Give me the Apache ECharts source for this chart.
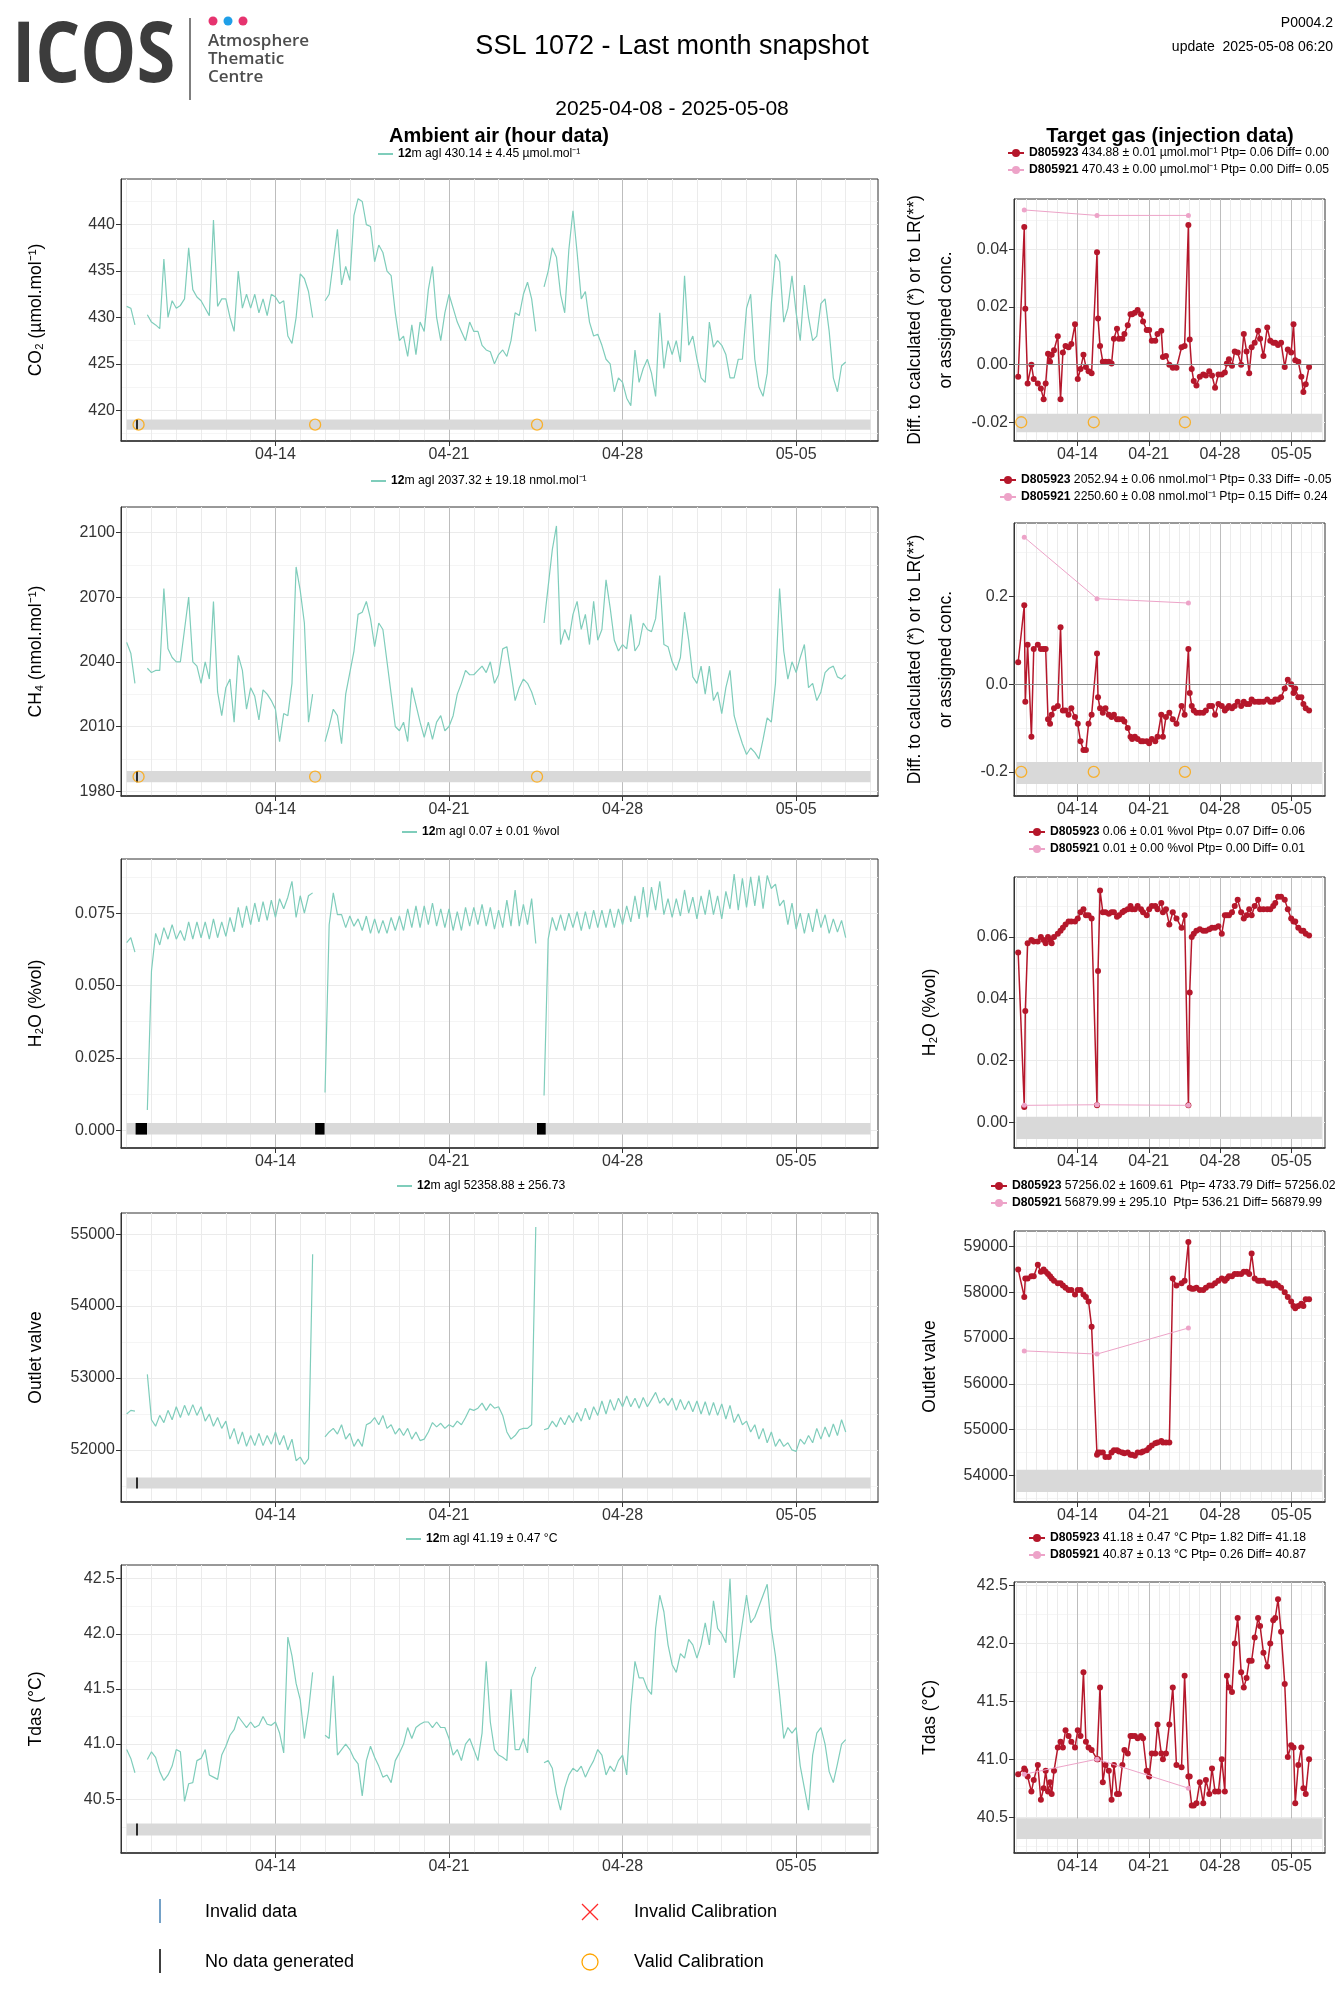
<!DOCTYPE html>
<html><head><meta charset="utf-8">
<script src="https://cdn.jsdelivr.net/npm/echarts@6/dist/echarts.min.js"></script>
<style>html,body{margin:0;padding:0;background:#fff}#c{width:1340px;height:2000px}</style>
</head><body><div id="c"></div>
<script>
// ---------------- DATA ----------------
const STEP_HOURS = 4;                       // hourly series sampled every 4 h from 2025-04-08 00:00 UTC
const seriesStart = '2025-04-08T00:00:00Z';
const xRange = ['2025-04-07T18:30:00Z', '2025-05-08T07:15:00Z'];
const xMajorTicks = ['2025-04-14', '2025-04-21', '2025-04-28', '2025-05-05'];
const statusSpan = ['2025-04-08T00:00:00Z', '2025-05-08T00:00:00Z'];
const calibrationDays = [0.48, 7.60, 16.55];            // valid calibrations (days after 04-08)
const noDataLineDays = [0.41];
const h2oNoDataRanges = [[0.36, 0.82], [7.60, 7.98], [16.55, 16.90]];

const co2Hourly = [
431.2,431,429.2,null,null,430.3, 429.5,429.2,428.8,436.3,430,431.8, 431,431.3,432,437.5,433,432.2,
431.8,431,430.2,440.5,431.2,432, 432,430,428.5,435,431,432.5, 431,432.5,430.5,432,430.2,432.5,
432.2,431.5,431.8,428,427.2,430, 434.7,434.2,432.8,430,null,null, 431.8,432.5,436,439.5,433.5,435.5,
434,441,442.8,442.5,440,439.8, 436,437.8,437,435,434.5,430.5, 427.5,428,425.8,429.2,426,429.5,
428.5,433,435.5,430,427.5,430.5, 432.5,431,429.5,428.5,427.5,429.5, 428.5,428.5,427,426.5,426.3,425,
426,426.5,425.8,427.5,430.5,430.2, 432.5,433.8,432,428.5,null,433.3, 435,437.5,436.5,432.5,430.5,437.3,
441.5,437,432,432.8,429.5,428, 428.2,427,425.5,425,422,423.5, 423,421.3,420.5,426.5,423,424.5,
425.5,424,421.5,430.5,424.5,427.5, 426,427.5,425.2,434.5,427,428, 425.5,423.5,423,429.5,426.8,427.5,
427,426,423.5,423.5,425.5,425.5, 431,432.5,425.5,422.5,421.5,424, 431.5,436.8,436,429.5,431,434.5,
430.5,427.5,433.5,430,427.5,428, 431.5,432,428.5,423.5,422,424.8, 425.2];

const ch4Hourly = [
2049,2044,2030,null,null,2037, 2035,2036,2036,2074,2046,2042, 2040,2040,2055,2070,2040,2038,
2030,2040,2032,2068,2026,2015, 2028,2032,2012,2043,2036,2018, 2028,2024,2013,2027,2025,2022,
2018,2003,2016,2015,2030,2084, 2073,2058,2012,2025,null,null, 2003,2010,2018,2015,2002,2025,
2035,2045,2062,2063,2068,2060, 2047,2058,2055,2040,2025,2010, 2008,2012,2003,2028,2020,2012,
2005,2012,2004,2012,2015,2008, 2010,2015,2025,2030,2036,2034, 2034,2036,2038,2035,2040,2030,
2034,2046,2047,2035,2022,2028, 2032,2030,2026,2020,null,2058, 2075,2092,2103,2048,2055,2050,
2062,2068,2055,2062,2048,2068, 2050,2055,2078,2065,2050,2045, 2048,2046,2062,2045,2048,2058,
2055,2054,2060,2080,2048,2047, 2040,2036,2042,2063,2050,2033, 2030,2038,2025,2038,2022,2026,
2016,2028,2036,2015,2008,2002, 1997,2000,1998,1995,2004,2014, 2012,2030,2074,2045,2032,2040,
2035,2042,2048,2028,2030,2022, 2026,2035,2037,2038,2033,2032, 2034];

const h2oHourly = [
0.0648,0.0665,0.0615,null,null,0.007, 0.055,0.068,0.064,0.070,0.066,0.071, 0.066,0.069,0.0655,0.072,0.066,0.072,
0.0665,0.072,0.066,0.073,0.0665,0.072, 0.067,0.0735,0.0685,0.077,0.070,0.0775, 0.071,0.0785,0.072,0.079,0.0725,0.0795,
0.0735,0.080,0.0765,0.0805,0.086,0.0735, 0.081,0.075,0.081,0.082,null,null, 0.013,0.071,0.082,0.0745,0.0745,0.070,
0.074,0.0705,0.073,0.069,0.074,0.068, 0.073,0.068,0.0725,0.068,0.0735,0.069, 0.074,0.069,0.0765,0.070,0.0775,0.070,
0.0775,0.071,0.0785,0.0705,0.0765,0.070, 0.0765,0.069,0.0755,0.069,0.077,0.0705, 0.077,0.071,0.078,0.0705,0.077,0.0695,
0.076,0.070,0.0795,0.0705,0.083,0.0705, 0.078,0.071,0.080,0.0645,null,0.012, 0.066,0.0735,0.069,0.0745,0.069,0.075,
0.070,0.0755,0.069,0.0755,0.0695,0.076, 0.070,0.076,0.070,0.0765,0.070,0.0765, 0.071,0.0775,0.072,0.081,0.073,0.084,
0.0735,0.084,0.076,0.086,0.0745,0.080, 0.0735,0.080,0.074,0.083,0.075,0.0805, 0.073,0.081,0.0745,0.083,0.0745,0.081,
0.073,0.0825,0.0765,0.0885,0.076,0.087, 0.077,0.0875,0.0775,0.088,0.0765,0.088, 0.0835,0.085,0.0775,0.0795,0.071,0.0785,
0.0695,0.075,0.068,0.075,0.0685,0.0765, 0.070,0.0745,0.068,0.073,0.0685,0.0725, 0.0665];

const outletHourly = [
52500,52550,52540,null,null,53050, 52420,52330,52480,52380,52550,52420, 52600,52450,52620,52480,52630,52480,
52600,52400,52500,52330,52450,52300, 52400,52150,52300,52080,52250,52050, 52200,52060,52230,52060,52200,52080,
52250,52070,52200,52000,52150,51850, 51900,51800,51880,54720,null,null, 52180,52250,52300,52220,52350,52150,
52230,52050,52150,52050,52350,52380, 52450,52350,52480,52300,52350,52220, 52300,52200,52300,52150,52250,52130,
52150,52250,52380,52320,52370,52300, 52350,52320,52400,52350,52450,52570, 52550,52580,52650,52550,52640,52580,
52600,52480,52250,52150,52200,52280, 52300,52300,52350,55100,null,52280, 52300,52400,52320,52450,52350,52480,
52380,52520,52400,52580,52420,52600, 52480,52680,52500,52700,52550,52720, 52600,52750,52600,52720,52580,52730,
52600,52700,52800,52650,52720,52620, 52720,52550,52700,52560,52680,52530, 52680,52500,52670,52480,52660,52480,
52640,52430,52620,52380,52500,52350, 52400,52250,52350,52150,52300,52100, 52250,52050,52150,52050,52100,52000,
51980,52150,52080,52200,52100,52300, 52150,52320,52180,52360,52200,52420, 52250];

const tdasHourly = [
40.95,40.87,40.74,null,null,40.86, 40.93,40.88,40.75,40.67,40.72,40.8, 40.95,40.93,40.48,40.64,40.65,40.85,
40.87,40.95,40.72,40.7,40.68,40.9, 40.98,41.08,41.13,41.25,41.2,41.15, 41.2,41.15,41.17,41.25,41.18,41.17,
41.2,41.1,40.92,41.97,41.8,41.55, 41.4,41.05,41.3,41.65,null,null, 41.08,41.05,41.62,40.9,40.95,41.0,
40.95,40.87,40.82,40.53,40.85,40.98, 40.88,40.8,40.7,40.72,40.65,40.85, 40.92,41.0,41.15,41.05,41.15,41.18,
41.2,41.2,41.15,41.2,41.15,41.15, 41.05,40.9,40.95,40.85,41.0,41.05, 40.95,40.85,41.1,41.75,41.2,40.95,
40.9,40.88,40.85,41.5,40.95,40.95, 41.05,40.92,41.6,41.7,null,40.83, 40.85,40.78,40.55,40.4,40.6,40.72,
40.78,40.75,40.8,40.7,40.78,40.85, 40.95,40.9,40.72,40.8,40.75,40.85, 40.9,40.72,41.35,41.75,41.6,41.6,
41.5,41.45,42.05,42.35,42.2,41.9, 41.72,41.65,41.82,41.78,41.95,41.9, 41.78,41.9,42.1,41.9,42.3,42.05,
42.0,41.92,42.5,41.6,41.85,42.1, 42.35,42.1,42.15,42.25,42.35,42.45, 42.05,41.8,41.45,41.05,41.15,41.1,
41.15,40.8,40.6,40.4,40.9,41.1, 41.15,41.0,40.75,40.65,40.82,41.0, 41.04];

// target-gas injections (days after 2025-04-08 00:00)
const injDay = [0.18,0.78,0.88,1.11,1.48,1.71,2.11,2.41,2.68,2.88,3.11,3.31,3.47,3.70,4.07,4.34,4.57,4.83,5.13,5.40,
5.76,6.03,6.30,6.59,6.83,7.09,7.39,7.92,8.02,8.22,8.49,8.75,9.08,9.35,9.58,9.88,10.08,10.41,10.61,10.94,
11.21,11.37,11.64,11.91,12.24,12.44,12.80,13.04,13.30,13.64,13.86,14.23,14.39,14.69,15.02,15.36,15.72,16.22,16.52,16.89,
17.02,17.22,17.42,17.68,18.01,18.35,18.61,18.94,19.21,19.51,19.84,20.17,20.47,20.67,20.87,21.17,21.44,21.73,22.07,22.33,
22.60,22.86,23.10,23.40,23.73,23.93,24.26,24.63,24.93,25.22,25.42,25.69,25.99,26.35,26.65,26.98,27.21,27.38,27.68,27.98,
28.18,28.41,28.74];
const refDay = [0.78, 7.92, 16.89];

const co2D805923 = [-0.0042,0.0478,0.0194,-0.0065,0.0,-0.005,-0.0065,-0.0083,-0.012,-0.0065,
0.0038,0.001,0.0034,0.005,0.0099,-0.012,0.0042,0.0065,0.006,0.0072,
0.014,-0.005,-0.0015,0.0034,-0.0008,-0.0023,-0.003,0.039,0.016,0.0065,
0.001,0.001,0.001,0.0004,0.009,0.0125,0.009,0.009,0.0106,0.0137,
0.0175,0.0175,0.018,0.019,0.0175,0.015,0.012,0.012,0.0083,0.0083,
0.0106,0.0118,0.0027,0.003,0.0,-0.0011,-0.0011,0.006,0.0065,0.0485,
0.0087,-0.0015,-0.0057,-0.0072,-0.0042,-0.0034,-0.0038,-0.0023,-0.0038,-0.008,
-0.0034,-0.0034,-0.0027,0.0004,0.0019,-0.0004,0.0046,0.0042,0.0,0.0106,
0.0046,-0.003,0.006,0.0076,0.0118,0.009,0.003,0.0129,0.0083,0.0076,
0.0076,0.0068,0.0076,-0.0008,0.0053,0.0042,0.014,0.0015,0.001,-0.0042,
-0.0095,-0.0068,-0.0008];
const co2D805921 = [0.0537, 0.0518, 0.0518];

const ch4D805923 = [0.05,0.18,-0.04,0.09,-0.12,0.08,0.09,0.08,0.08,0.08,
-0.08,-0.09,-0.07,-0.055,-0.05,0.13,-0.06,-0.06,-0.07,-0.055,
-0.075,-0.09,-0.13,-0.15,-0.15,-0.09,-0.07,0.07,-0.03,-0.055,
-0.065,-0.055,-0.07,-0.075,-0.07,-0.08,-0.08,-0.08,-0.085,-0.1,
-0.12,-0.125,-0.12,-0.125,-0.13,-0.13,-0.13,-0.135,-0.125,-0.13,
-0.12,-0.07,-0.12,-0.075,-0.065,-0.08,-0.09,-0.05,-0.07,0.08,
-0.02,-0.05,-0.06,-0.065,-0.065,-0.065,-0.06,-0.05,-0.05,-0.07,
-0.045,-0.05,-0.06,-0.055,-0.05,-0.055,-0.05,-0.04,-0.05,-0.04,
-0.045,-0.045,-0.035,-0.04,-0.04,-0.04,-0.04,-0.035,-0.04,-0.04,
-0.035,-0.035,-0.03,-0.01,0.01,0.0,-0.02,-0.01,-0.03,-0.03,
-0.045,-0.055,-0.06];
const ch4D805921 = [0.335, 0.195, 0.185];

const h2oD805923 = [0.055,0.005,0.036,0.058,0.059,0.0585,0.0585,0.060,0.059,0.058,
0.060,0.059,0.058,0.060,0.061,0.062,0.063,0.064,0.065,0.065,
0.065,0.066,0.068,0.069,0.067,0.067,0.066,0.0055,0.049,0.075,
0.068,0.068,0.0675,0.068,0.068,0.0665,0.067,0.068,0.0685,0.069,
0.070,0.069,0.069,0.070,0.069,0.068,0.067,0.069,0.070,0.070,
0.069,0.071,0.068,0.069,0.064,0.068,0.066,0.063,0.067,0.0055,
0.042,0.060,0.061,0.062,0.0625,0.062,0.062,0.0625,0.063,0.063,
0.0635,0.061,0.067,0.067,0.067,0.068,0.070,0.072,0.068,0.066,
0.067,0.069,0.067,0.070,0.072,0.069,0.069,0.069,0.069,0.070,
0.071,0.073,0.073,0.072,0.069,0.066,0.065,0.065,0.063,0.062,
0.062,0.061,0.0605];
const h2oD805921 = [0.0055, 0.0057, 0.0055];

const outletD805923 = [58500,57900,58300,58300,58350,58350,58600,58450,58500,58450,
58400,58350,58300,58250,58200,58200,58150,58100,58050,58050,
57950,58050,58050,57950,57900,57800,57250,54450,54500,54500,
54500,54400,54400,54500,54550,54550,54520,54500,54480,54500,
54450,54450,54430,54500,54500,54520,54550,54600,54650,54700,
54720,54750,54720,54720,54720,58300,58150,58200,58250,59100,
58100,58080,58080,58100,58050,58050,58100,58150,58150,58200,
58250,58300,58250,58300,58350,58350,58400,58400,58400,58450,
58450,58400,58850,58300,58250,58250,58250,58200,58200,58150,
58200,58150,58100,58000,57900,57800,57700,57650,57700,57750,
57700,57850,57850];
const outletD805921 = [56720, 56650, 57220];

const tdasD805923 = [40.87,40.92,40.9,40.85,40.72,40.82,40.95,40.65,40.75,40.9,
40.72,40.8,40.7,40.9,41.1,41.15,41.1,41.25,41.2,41.15,
41.1,41.25,41.2,41.75,41.15,41.1,41.08,41.0,41.0,41.62,
40.8,40.95,40.9,40.65,40.95,40.7,40.7,40.95,41.08,41.05,
41.2,41.2,41.2,41.18,41.2,41.18,40.9,40.85,41.05,41.05,
41.3,41.05,41.0,41.05,41.3,41.62,40.95,40.93,41.72,40.85,
40.85,40.6,40.6,40.62,40.8,40.62,40.82,40.7,40.92,40.72,
40.72,41.0,40.72,41.72,41.62,41.58,42.0,42.22,41.75,41.62,
41.7,41.85,41.85,42.05,42.22,42.15,41.92,41.8,42.0,42.2,
42.22,42.38,42.1,41.65,41.02,41.12,41.1,40.62,40.95,41.1,
40.75,40.7,41.0];
const tdasD805921 = [40.87, 41.0, 40.75];

// ---------------- CHART ----------------
const TEAL = '#7fcdbb', RED = '#b5172b', PINK = '#eda3c8', ORANGE = '#ffa500';
const FONT = "'Liberation Sans', Arial, Helvetica, sans-serif";
const HOUR = 3600e3, DAY = 864e5;
const T0 = Date.parse(seriesStart);
const xMin = Date.parse(xRange[0]), xMax = Date.parse(xRange[1]);
const xMajorTs = xMajorTicks.map(s => Date.parse(s + 'T00:00:00Z'));
const xMinorTs = [];
for (let d = 0; d <= 30; d++) { const t = T0 + d * DAY; if (!xMajorTs.includes(t)) xMinorTs.push(t); }
const statusTs = statusSpan.map(s => Date.parse(s));
const pad = n => (n < 10 ? '0' : '') + n;
const fmtDate = v => { const d = new Date(v); return pad(d.getUTCMonth() + 1) + '-' + pad(d.getUTCDate()); };
const hourlyPairs = arr => arr.map((v, i) => [T0 + i * STEP_HOURS * HOUR, v]);
const dayPairs = (days, vals) => days.map((d, i) => [T0 + d * DAY, vals[i]]);

const grid = [], xAxis = [], yAxis = [], series = [], legend = [];

function panel(c) {
  const gi = grid.length;
  grid.push({left: c.left, top: c.top, width: c.width, height: c.height, show: true, borderColor: '#333', borderWidth: 1,
    containLabel: false, outerBoundsMode: 'none'});
  xAxis.push({gridIndex: gi, type: 'value', position: 'bottom', min: xMin, max: xMax, axisLine: {show: false},
    axisTick: {show: false, customValues: xMinorTs}, axisLabel: {show: false},
    splitLine: {show: true, lineStyle: {color: '#ebebeb', width: 1}}});
  xAxis.push({gridIndex: gi, type: 'value', position: 'bottom', min: xMin, max: xMax,
    axisLine: {show: true, onZero: false, lineStyle: {color: '#333', width: 1.5}},
    axisTick: {show: true, customValues: xMajorTs, length: 5, lineStyle: {color: '#333'}},
    axisLabel: {show: true, customValues: xMajorTs, formatter: fmtDate, margin: 6, fontSize: 16, color: '#333', fontFamily: FONT},
    splitLine: {show: true, lineStyle: {color: '#bdbdbd', width: 1}}});
  yAxis.push({gridIndex: gi, type: 'value', position: 'left', min: c.min, max: c.max, axisLine: {show: false},
    axisTick: {show: false, customValues: c.minor}, axisLabel: {show: false},
    splitLine: {show: true, lineStyle: {color: '#f2f2f2', width: 0.8}}});
  yAxis.push({gridIndex: gi, type: 'value', position: 'left', min: c.min, max: c.max,
    name: c.name, nameLocation: 'middle', nameGap: c.nameGap,
    nameTextStyle: {fontSize: 17.5, color: '#000', fontFamily: FONT, lineHeight: c.nameLH || 20},
    axisLine: {show: true, onZero: false, lineStyle: {color: '#333', width: 1}},
    axisTick: {show: true, customValues: c.major, length: 5, lineStyle: {color: '#333'}},
    axisLabel: {show: true, customValues: c.major, formatter: v => v.toFixed(c.dec), margin: 6, fontSize: 16, color: '#333', fontFamily: FONT},
    splitLine: {show: true, lineStyle: {color: '#ebebeb', width: 1.2}}});
  return {xi: 2 * gi + 1, yi: 2 * gi + 1};
}

function bandArea(c) {
  const ma = [[{xAxis: statusTs[0], yAxis: c.band[0], itemStyle: {color: '#d9d9d9'}}, {xAxis: statusTs[1], yAxis: c.band[1]}]];
  (c.noDataRanges || []).forEach(r => ma.push([
    {xAxis: T0 + r[0] * DAY, yAxis: c.band[0], itemStyle: {color: '#000'}}, {xAxis: T0 + r[1] * DAY, yAxis: c.band[1]}]));
  return {silent: true, data: ma};
}

function calScatter(ax, y) {
  series.push({type: 'scatter', name: 'Valid Calibration', xAxisIndex: ax.xi, yAxisIndex: ax.yi, silent: true, z: 6,
    data: calibrationDays.map(d => [T0 + d * DAY, y]), symbol: 'circle', symbolSize: 11,
    itemStyle: {color: 'rgba(0,0,0,0)', borderColor: ORANGE, borderWidth: 1.3}});
}

const legendText = {fontSize: 12.2, color: '#000', fontFamily: FONT, lineHeight: 14,
  rich: {b: {fontWeight: 'bold', fontSize: 12.2, fontFamily: FONT, color: '#000'}}};

// ---- left panels (ambient air) ----
const L = {left: 121, width: 757};
const leftPanels = [
  {name: 'CO₂ (µmol.mol⁻¹)', top: 179, height: 262, min: 416.69, max: 444.92, major: [420, 425, 430, 435, 440],
   minor: [417.5, 422.5, 427.5, 432.5, 437.5, 442.5], dec: 0, band: [417.9, 419.0], calY: 418.45, data: co2Hourly,
   noDataLines: noDataLineDays, legendLeft: 378, legendTop: 147, label: '{b|12}m agl 430.14 ± 4.45 µmol.mol⁻¹'},
  {name: 'CH₄ (nmol.mol⁻¹)', top: 507, height: 289, min: 1977.75, max: 2111.8, major: [1980, 2010, 2040, 2070, 2100],
   minor: [1995, 2025, 2055, 2085], dec: 0, band: [1984.1, 1989.4], calY: 1986.7, data: ch4Hourly,
   noDataLines: noDataLineDays, legendLeft: 371, legendTop: 474, label: '{b|12}m agl 2037.32 ± 19.18 nmol.mol⁻¹'},
  {name: 'H₂O (%vol)', top: 859, height: 289, min: -0.00614, max: 0.0937, major: [0, 0.025, 0.05, 0.075],
   minor: [0.0125, 0.0375, 0.0625, 0.0875], dec: 3, band: [-0.0015, 0.0025], data: h2oHourly,
   noDataRanges: h2oNoDataRanges, legendLeft: 402, legendTop: 825, label: '{b|12}m agl 0.07 ± 0.01 %vol'},
  {name: 'Outlet valve', top: 1213, height: 289, min: 51276, max: 55294, major: [52000, 53000, 54000, 55000],
   minor: [51500, 52500, 53500, 54500], dec: 0, band: [51465, 51618], data: outletHourly,
   noDataLines: noDataLineDays, legendLeft: 397, legendTop: 1179, label: '{b|12}m agl 52358.88 ± 256.73'},
  {name: 'Tdas (°C)', top: 1565, height: 288, min: 40.012, max: 42.624, major: [40.5, 41, 41.5, 42, 42.5],
   minor: [40.25, 40.75, 41.25, 41.75, 42.25], dec: 1, band: [40.17, 40.28], data: tdasHourly,
   noDataLines: noDataLineDays, legendLeft: 406, legendTop: 1532, label: '{b|12}m agl 41.19 ± 0.47 °C'}
];
leftPanels.forEach(p => {
  const c = Object.assign({}, L, p, {nameGap: 75});
  const ax = panel(c);
  const ml = (p.noDataLines || []).map(d => [{xAxis: T0 + d * DAY, yAxis: p.band[0]}, {xAxis: T0 + d * DAY, yAxis: p.band[1]}]);
  series.push({type: 'line', name: '12m agl', xAxisIndex: ax.xi, yAxisIndex: ax.yi, data: hourlyPairs(p.data),
    symbol: 'none', connectNulls: false, lineStyle: {color: TEAL, width: 1.2}, itemStyle: {color: TEAL},
    markArea: bandArea(p),
    markLine: {silent: true, symbol: ['none', 'none'], label: {show: false}, lineStyle: {color: '#000', width: 1.6, type: 'solid'}, data: ml}});
  if (p.calY !== undefined) calScatter(ax, p.calY);
  legend.push({left: p.legendLeft, top: p.legendTop, padding: 0, itemWidth: 15, itemHeight: 2, icon: 'rect',
    data: ['12m agl'], formatter: () => p.label, textStyle: legendText});
});

// ---- right panels (target gas) ----
const R = {left: 1014, width: 311};
const diffName = 'Diff. to calculated (*) or to LR(**)\nor assigned conc.';
const rightPanels = [
  {name: diffName, nameGap: 52, nameLH: 31, top: 199, height: 242, min: -0.0265, max: 0.0575, major: [-0.02, 0, 0.02, 0.04],
   minor: [-0.01, 0.01, 0.03, 0.05], dec: 2, band: [-0.0235, -0.017], calY: -0.02, zero: true, red: co2D805923, pink: co2D805921,
   legendLeft: 1007, legendTop: 146,
   labels: ['{b|D805923} 434.88 ± 0.01 µmol.mol⁻¹ Ptp= 0.06 Diff= 0.00', '{b|D805921} 470.43 ± 0.00 µmol.mol⁻¹ Ptp= 0.00 Diff= 0.05']},
  {name: diffName, nameGap: 52, nameLH: 31, top: 523, height: 273, min: -0.255, max: 0.3675, major: [-0.2, 0, 0.2],
   minor: [-0.1, 0.1, 0.3], dec: 1, band: [-0.2275, -0.1775], calY: -0.2, zero: true, red: ch4D805923, pink: ch4D805921,
   legendLeft: 999, legendTop: 473,
   labels: ['{b|D805923} 2052.94 ± 0.06 nmol.mol⁻¹ Ptp= 0.33 Diff= -0.05', '{b|D805921} 2250.60 ± 0.08 nmol.mol⁻¹ Ptp= 0.15 Diff= 0.24']},
  {name: 'H₂O (%vol)', nameGap: 74, top: 877, height: 271, min: -0.0083, max: 0.0794, major: [0, 0.02, 0.04, 0.06],
   minor: [0.01, 0.03, 0.05, 0.07], dec: 2, band: [-0.0054, 0.0018], red: h2oD805923, pink: h2oD805921,
   legendLeft: 1028, legendTop: 825,
   labels: ['{b|D805923} 0.06 ± 0.01 %vol Ptp= 0.07 Diff= 0.06', '{b|D805921} 0.01 ± 0.00 %vol Ptp= 0.00 Diff= 0.01']},
  {name: 'Outlet valve', nameGap: 74, top: 1231, height: 271, min: 53417, max: 59340, major: [54000, 55000, 56000, 57000, 58000, 59000],
   minor: [53500, 54500, 55500, 56500, 57500, 58500], dec: 0, band: [53636, 54121], red: outletD805923, pink: outletD805921,
   legendLeft: 990, legendTop: 1179,
   labels: ['{b|D805923} 57256.02 ± 1609.61  Ptp= 4733.79 Diff= 57256.02', '{b|D805921} 56879.99 ± 295.10  Ptp= 536.21 Diff= 56879.99']},
  {name: 'Tdas (°C)', nameGap: 74, top: 1582, height: 271, min: 40.19, max: 42.53, major: [40.5, 41, 41.5, 42, 42.5],
   minor: [40.25, 40.75, 41.25, 41.75, 42.25], dec: 1, band: [40.31, 40.49], red: tdasD805923, pink: tdasD805921,
   legendLeft: 1028, legendTop: 1531,
   labels: ['{b|D805923} 41.18 ± 0.47 °C Ptp= 1.82 Diff= 41.18', '{b|D805921} 40.87 ± 0.13 °C Ptp= 0.26 Diff= 40.87']}
];
rightPanels.forEach(p => {
  const c = Object.assign({}, R, p);
  const ax = panel(c);
  series.push({type: 'line', name: 'D805923', xAxisIndex: ax.xi, yAxisIndex: ax.yi, data: dayPairs(injDay, p.red),
    symbol: 'circle', symbolSize: 6, showSymbol: true, lineStyle: {color: RED, width: 1.5}, itemStyle: {color: RED}, z: 3,
    markArea: bandArea(p),
    markLine: p.zero ? {silent: true, symbol: ['none', 'none'], label: {show: false}, lineStyle: {color: '#8c8c8c', width: 1, type: 'solid'}, data: [{yAxis: 0}]} : undefined});
  series.push({type: 'line', name: 'D805921', xAxisIndex: ax.xi, yAxisIndex: ax.yi, data: dayPairs(refDay, p.pink),
    symbol: 'circle', symbolSize: 5, showSymbol: true, lineStyle: {color: PINK, width: 1}, itemStyle: {color: PINK}, z: 4});
  if (p.calY !== undefined) calScatter(ax, p.calY);
  legend.push({orient: 'vertical', left: p.legendLeft, top: p.legendTop, padding: 0, itemWidth: 16, itemHeight: 10, itemGap: 3,
    data: ['D805923', 'D805921'], formatter: n => (n === 'D805923' ? p.labels[0] : p.labels[1]), textStyle: legendText});
});

// ---- page texts, logo and bottom key ----
const txt = (x, y, text, font, align, fill) => ({type: 'text', x, y, silent: true,
  style: {text, font, fill: fill || '#000', align: align || 'left', verticalAlign: 'middle'}});
const graphic = [
  {type: 'text', x: 12, y: 58, scaleX: 0.84, silent: true, style: {text: 'ICOS', font: "bold 84px 'Open Sans'", fill: '#3c3c3c', verticalAlign: 'middle'}},
  {type: 'line', silent: true, shape: {x1: 190, y1: 18, x2: 190, y2: 100}, style: {stroke: '#555', lineWidth: 1.5}},
  {type: 'circle', silent: true, shape: {cx: 213, cy: 21, r: 4.5}, style: {fill: '#e6336f'}},
  {type: 'circle', silent: true, shape: {cx: 228, cy: 21, r: 4.5}, style: {fill: '#1f9fe8'}},
  {type: 'circle', silent: true, shape: {cx: 243, cy: 21, r: 4.5}, style: {fill: '#e6336f'}},
  txt(208, 41, 'Atmosphere', "600 17px 'Open Sans'", 'left', '#4d4d4d'),
  txt(208, 59, 'Thematic', "600 17px 'Open Sans'", 'left', '#4d4d4d'),
  txt(208, 77, 'Centre', "600 17px 'Open Sans'", 'left', '#4d4d4d'),
  txt(672, 47, 'SSL 1072 - Last month snapshot', '27px ' + FONT, 'center'),
  txt(672, 109, '2025-04-08 - 2025-05-08', '21px ' + FONT, 'center'),
  txt(1333, 23, 'P0004.2', '14px ' + FONT, 'right'),
  txt(1333, 47, 'update  2025-05-08 06:20', '14px ' + FONT, 'right'),
  txt(499, 136, 'Ambient air (hour data)', 'bold 20px ' + FONT, 'center'),
  txt(1170, 136, 'Target gas (injection data)', 'bold 20px ' + FONT, 'center'),
  {type: 'line', silent: true, shape: {x1: 160, y1: 1899, x2: 160, y2: 1923}, style: {stroke: '#4682b4', lineWidth: 1.5}},
  txt(205, 1912, 'Invalid data', '18px ' + FONT),
  {type: 'line', silent: true, shape: {x1: 160, y1: 1949, x2: 160, y2: 1973}, style: {stroke: '#000', lineWidth: 1.5}},
  txt(205, 1962, 'No data generated', '18px ' + FONT),
  {type: 'line', silent: true, shape: {x1: 582, y1: 1904, x2: 598, y2: 1920}, style: {stroke: '#ff2a2a', lineWidth: 1.3}},
  {type: 'line', silent: true, shape: {x1: 598, y1: 1904, x2: 582, y2: 1920}, style: {stroke: '#ff2a2a', lineWidth: 1.3}},
  txt(634, 1912, 'Invalid Calibration', '18px ' + FONT),
  {type: 'circle', silent: true, shape: {cx: 590, cy: 1962, r: 8}, style: {fill: 'none', stroke: ORANGE, lineWidth: 1.3}},
  txt(634, 1962, 'Valid Calibration', '18px ' + FONT)
];

const chart = echarts.init(document.getElementById('c'), null, {renderer: 'canvas'});
chart.setOption({animation: false, backgroundColor: '#fff', grid, xAxis, yAxis, series, legend, graphic});
</script></body></html>
